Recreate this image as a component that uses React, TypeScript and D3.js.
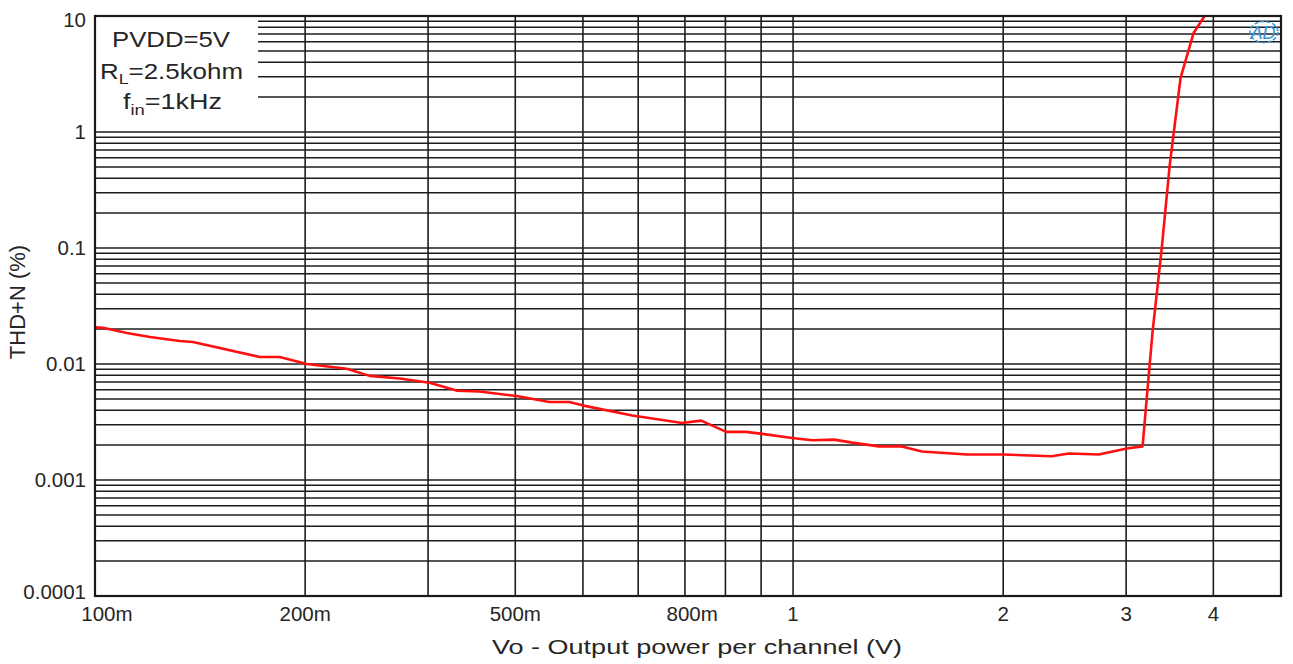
import React from "react";
import * as d3 from "d3";

// ---- data ----
const vout = [0.1, 0.1027, 0.1111, 0.1199, 0.1323, 0.1381, 0.1722, 0.1839, 0.2011, 0.2294, 0.2474, 0.2731, 0.3015, 0.3295, 0.3554, 0.4016, 0.4477, 0.4781, 0.4991, 0.5885, 0.6937, 0.7387, 0.802, 0.8565, 0.903, 0.997, 1.065, 1.145, 1.215, 1.327, 1.427, 1.53, 1.774, 2.004, 2.347, 2.482, 2.741, 3.005, 3.167, 3.273, 3.373, 3.462, 3.59, 3.748, 3.886];
const thdn = [0.0207, 0.0205, 0.0185, 0.0171, 0.0158, 0.0155, 0.0115, 0.0115, 0.01, 0.0091, 0.0079, 0.0075, 0.0069, 0.0059, 0.0058, 0.0053, 0.0047, 0.0047, 0.0044, 0.0036, 0.0031, 0.00325, 0.0026, 0.0026, 0.0025, 0.0023, 0.0022, 0.00223, 0.0021, 0.00195, 0.00195, 0.00176, 0.00166, 0.00166, 0.0016, 0.00169, 0.00166, 0.00187, 0.00195, 0.0189, 0.0977, 0.504, 2.93, 7.14, 10];

const xGridValues = [0.2, 0.3, 0.4, 0.5, 0.6, 0.7, 0.8, 0.9, 1, 2, 3, 4];
const xTickAt = [0.104, 0.2, 0.4, 0.717, 1, 2, 3, 4];
const xTickLabels = ["100m", "200m", "500m", "800m", "1", "2", "3", "4"];
const yTickValues = [10, 1, 0.1, 0.01, 0.001, 0.0001];
const yTickLabels = ["10", "1", "0.1", "0.01", "0.001", "0.0001"];
const yDecades = [0.0001, 0.001, 0.01, 0.1, 1];

const W = 1293;
const H = 664;
const L = 95, R = 1281, T = 16, B = 596;
const FONT = "'Liberation Sans', Arial, sans-serif";

export default function App() {
  const x = d3.scaleLog().domain([0.1, 5]).range([L, R]);
  const y = d3.scaleLog().domain([0.0001, 10]).range([B, T]);

  const hLines: number[] = [];
  yDecades.forEach((d) => {
    for (let k = 1; k <= 9; k++) hLines.push(d * k);
  });

  const line = d3
    .line<number>()
    .x((_, i) => x(vout[i]))
    .y((v) => y(v));

  const gridColor = "#1c1c1c";
  const textColor = "#262626";

  return (
    <svg
      width={W}
      height={H}
      style={{ position: "absolute", left: 0, top: 0, background: "#fff" }}
      fontFamily={FONT}
    >
      <rect x={0} y={0} width={W} height={H} fill="#fff" />
      {/* horizontal grid */}
      {hLines.map((v, i) => (
        <line key={"h" + i} x1={L} x2={R} y1={y(v)} y2={y(v)} stroke={gridColor} strokeWidth={1.5} />
      ))}
      {/* vertical grid */}
      {xGridValues.map((v, i) => (
        <line key={"v" + i} x1={x(v)} x2={x(v)} y1={T} y2={B} stroke={gridColor} strokeWidth={1.6} />
      ))}
      {/* legend box */}
      <rect x={L} y={T} width={163} height={112} fill="#fff" />
      <g fontSize={22} fill={textColor} textAnchor="middle">
        <text x={171} y={47} textLength={118} lengthAdjust="spacingAndGlyphs">PVDD=5V</text>
        <text x={171.5} y={79} textLength={143} lengthAdjust="spacingAndGlyphs">
          R<tspan fontSize={15} dy={5}>L</tspan>
          <tspan dy={-5}>=2.5kohm</tspan>
        </text>
        <text x={172.5} y={109} textLength={99} lengthAdjust="spacingAndGlyphs">
          f<tspan fontSize={15} dy={6}>in</tspan>
          <tspan dy={-6}>=1kHz</tspan>
        </text>
      </g>
      {/* curve */}
      <path d={line(thdn) || ""} fill="none" stroke="#ff1010" strokeWidth={2.6} strokeLinejoin="round" />
      {/* frame */}
      <rect x={L} y={T} width={R - L} height={B - T} fill="none" stroke="#1a1a1a" strokeWidth={2.2} />
      {/* logo */}
      <g>
        <ellipse cx={1264} cy={32} rx={14} ry={10.5} fill="none" stroke="#3593d4" strokeWidth={1.5} strokeDasharray="4,2" />
        <text x={1263} y={39} fontSize={18} fontStyle="italic" fill="#3593d4" textAnchor="middle">AD</text>
      </g>
      {/* y tick labels */}
      <g fontSize={20.5} fill={textColor} textAnchor="end">
        {yTickValues.map((v, i) => {
          const yy = Math.min(Math.max(y(v), T + 4), B - 4);
          return (
            <text key={"yt" + i} x={86} y={yy} dy="0.36em">{yTickLabels[i]}</text>
          );
        })}
      </g>
      {/* x tick labels */}
      <g fontSize={20.5} fill={textColor} textAnchor="middle">
        {xTickAt.map((v, i) => (
          <text key={"xt" + i} x={x(v)} y={621}>{xTickLabels[i]}</text>
        ))}
      </g>
      {/* axis titles */}
      <text x={697} y={654} fontSize={21} fill={textColor} textAnchor="middle" textLength={410} lengthAdjust="spacingAndGlyphs">
        Vo - Output power per channel (V)
      </text>
      <text transform={`translate(25,${(T + B) / 2 - 4}) rotate(-90)`} fontSize={22} fill={textColor} textAnchor="middle">
        THD+N (%)
      </text>
    </svg>
  );
}
